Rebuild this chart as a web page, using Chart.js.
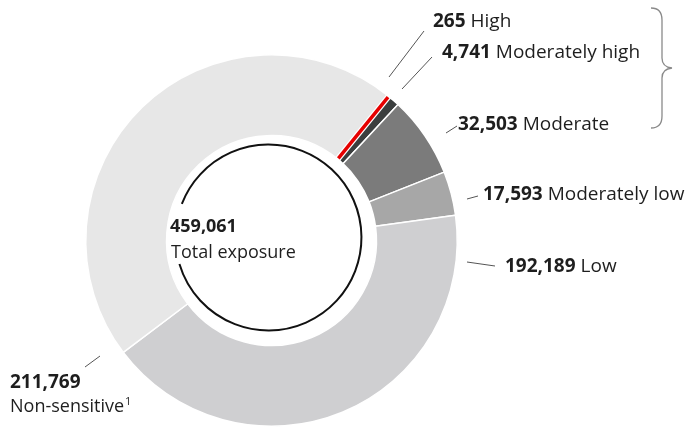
<!DOCTYPE html>
<html>
<head>
<meta charset="utf-8">
<script src="https://cdn.jsdelivr.net/npm/chart.js@4.4.1/dist/chart.umd.min.js"></script>
<style>
    html, body { margin: 0; padding: 0; background: #ffffff; }
    #wrap { width: 690px; height: 431px; position: relative; }
</style>
</head>
<body>
<div id="wrap"><canvas id="myChart"></canvas></div>
<script>
//
// data
//
const categories = ['High', 'Moderately high', 'Moderate', 'Moderately low', 'Low', 'Non-sensitive'];
const exposures = [265, 4741, 32503, 17593, 192189, 211769];
const totalExposure = [459061];
const centerCaption = ['Total exposure'];

//
// styles / layout (not data)
//
const sliceColors = ['#e60000', '#3b3e3e', '#7b7b7b', '#a7a7a7', '#cfcfd1', '#e7e7e7'];
const labelSpots = [[433, 27], [442, 58], [458, 130], [483, 200], [505, 272], [10, 388]];
const leaderLines = [
    [389, 77, 424, 31],
    [402, 89, 432, 57],
    [446, 133, 457, 126],
    [467, 199, 478, 196],
    [467, 262, 495, 266],
    [85, 367, 100, 356]
];
const fontFam = "'Open Sans', 'Noto Sans', sans-serif";

function fmt(n) {
    return n.toLocaleString('en-US');
}

//
// plugin: labels, leader lines, brace, centre text + ring
//
const decoPlugin = {
    id: 'deco',
    afterDatasetsDraw(chart) {
        const ctx = chart.ctx;
        const meta = chart.getDatasetMeta(0);
        const arcs = meta.data;

        // make the tiny red slice visible (drawn along its own angle)
        const hi = arcs[0];
        const mid = (hi.startAngle + hi.endAngle) / 2;
        ctx.save();
        ctx.strokeStyle = '#ffffff';
        ctx.lineWidth = 6;
        ctx.beginPath();
        ctx.moveTo(hi.x + Math.cos(mid) * hi.innerRadius, hi.y + Math.sin(mid) * hi.innerRadius);
        ctx.lineTo(hi.x + Math.cos(mid) * hi.outerRadius, hi.y + Math.sin(mid) * hi.outerRadius);
        ctx.stroke();
        ctx.strokeStyle = sliceColors[0];
        ctx.lineWidth = 3.5;
        ctx.beginPath();
        ctx.moveTo(hi.x + Math.cos(mid) * (hi.innerRadius + 1), hi.y + Math.sin(mid) * (hi.innerRadius + 1));
        ctx.lineTo(hi.x + Math.cos(mid) * (hi.outerRadius - 1), hi.y + Math.sin(mid) * (hi.outerRadius - 1));
        ctx.stroke();
        ctx.restore();

        // black ring inside the hole, broken where the text sits
        const cx = hi.x - 3, cy = hi.y - 3;
        ctx.save();
        ctx.strokeStyle = '#111111';
        ctx.lineWidth = 2;
        ctx.beginPath();
        ctx.arc(cx, cy, hi.innerRadius - 12, Math.PI + 0.37, Math.PI - 0.29 + 2 * Math.PI);
        ctx.stroke();
        ctx.restore();

        // centre text
        ctx.save();
        ctx.fillStyle = '#1e1e1e';
        ctx.textBaseline = 'alphabetic';
        ctx.font = 'bold 18px ' + fontFam;
        ctx.fillText(fmt(totalExposure[0]), 170, 232);
        ctx.font = '18px ' + fontFam;
        ctx.fillText(centerCaption[0], 171, 258);
        ctx.restore();

        // leader lines
        ctx.save();
        ctx.strokeStyle = '#555555';
        ctx.lineWidth = 1;
        leaderLines.forEach(l => {
            ctx.beginPath();
            ctx.moveTo(l[0], l[1]);
            ctx.lineTo(l[2], l[3]);
            ctx.stroke();
        });
        ctx.restore();

        // slice labels
        ctx.save();
        ctx.fillStyle = '#1e1e1e';
        ctx.textBaseline = 'alphabetic';
        for (let i = 0; i < categories.length; i++) {
            const [x, y] = labelSpots[i];
            ctx.font = 'bold 19px ' + fontFam;
            const num = fmt(exposures[i]);
            ctx.fillText(num, x, y);
            if (i === categories.length - 1) {
                // non-sensitive goes on a second line with footnote
                ctx.font = '18px ' + fontFam;
                ctx.fillText(categories[i], x, y + 24);
                const w = ctx.measureText(categories[i]).width;
                ctx.font = '11px ' + fontFam;
                ctx.fillText('1', x + w + 1, y + 17);
            } else {
                const w = ctx.measureText(num + ' ').width;
                ctx.font = '19px ' + fontFam;
                ctx.fillText(categories[i], x + w, y);
            }
        }
        ctx.restore();

        // brace grouping the top three
        ctx.save();
        ctx.strokeStyle = '#8a8a8a';
        ctx.lineWidth = 1.3;
        ctx.beginPath();
        ctx.moveTo(651, 8);
        ctx.quadraticCurveTo(662, 8, 662, 20);
        ctx.lineTo(662, 58);
        ctx.quadraticCurveTo(662, 67, 672, 68);
        ctx.quadraticCurveTo(662, 69, 662, 78);
        ctx.lineTo(662, 116);
        ctx.quadraticCurveTo(662, 128, 651, 128);
        ctx.stroke();
        ctx.restore();
    }
};

//
// CHART
//
var myChart = new Chart(document.getElementById('myChart').getContext('2d'), {
    type: 'doughnut',
    data: {
        labels: categories,
        datasets: [{
            data: exposures,
            backgroundColor: sliceColors,
            borderColor: '#ffffff',
            borderWidth: 1.5,
            hoverOffset: 0,
        }]
    },
    options: {
        responsive: true,
        maintainAspectRatio: false,
        animation: false,
        rotation: 39,
        cutout: '56.5%',
        layout: {
            padding: { left: 85, right: 232, top: 54, bottom: 4 }
        },
        plugins: {
            legend: { display: false },
            tooltip: { enabled: false },
        },
        events: [],
    },
    plugins: [decoPlugin]
});
</script>
</body>
</html>
